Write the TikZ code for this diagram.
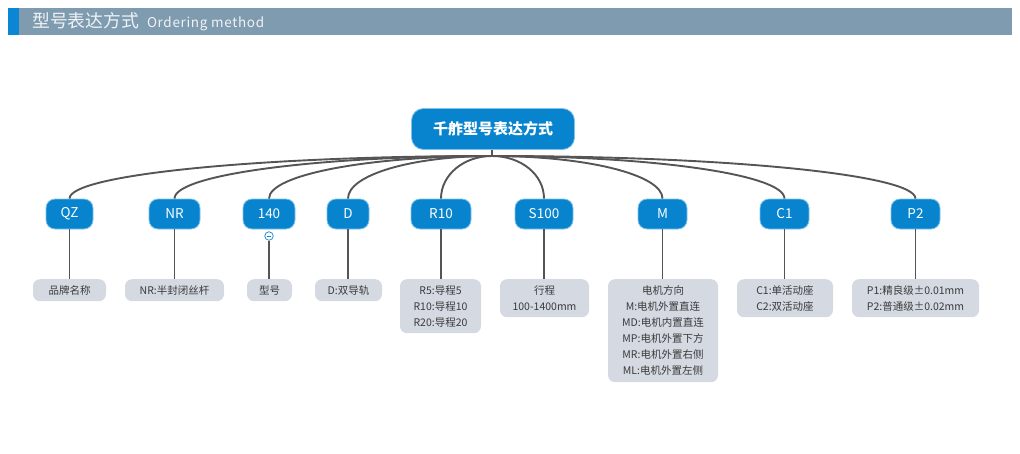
\documentclass[tikz,border=0pt]{standalone}
\usepackage{fontspec}
\setmainfont{Noto Sans CJK SC}
\definecolor{hdrgray}{HTML}{7F9BB0}
\definecolor{hdrblue}{HTML}{0A86D4}
\definecolor{nodeblue}{HTML}{0884CE}
\definecolor{nodeedge}{HTML}{7FC2EC}
\definecolor{leafgray}{HTML}{D5DAE2}
\definecolor{leaftext}{HTML}{3A3A3A}
\definecolor{conncol}{HTML}{555555}
\tikzset{
  keybox/.style={fill=nodeblue, draw=nodeedge, line width=0.8pt, rounded corners=9pt,
    minimum height=30pt, inner sep=0pt, text=white, font=\fontsize{13.5}{15}\selectfont},
  rootbox/.style={fill=nodeblue, draw=nodeedge, line width=0.8pt, rounded corners=12pt,
    minimum width=163pt, minimum height=41pt, inner sep=0pt, text=white,
    font=\fontsize{15}{17}\selectfont\bfseries},
  leafbox/.style={fill=leafgray, rounded corners=7pt, anchor=north, inner sep=0pt,
    align=center, text=leaftext, font=\fontsize{10.5}{16}\selectfont},
  conn/.style={draw=conncol, line width=1.9pt},
}
\begin{document}
\begin{tikzpicture}[x=1pt,y=-1pt]
\useasboundingbox (0,0) rectangle (1020,453);
% header
\fill[hdrgray] (19,8) rectangle (1012,35);
\fill[hdrblue] (8,8) rectangle (19,35);
\node[anchor=west, inner sep=0pt, text=white!88!hdrgray] (hdr) at (32,22)
  {{\fontsize{17.8}{19}\selectfont 型号表达方式}\hspace{8pt}{\fontsize{13.5}{15}\selectfont\addfontfeatures{LetterSpace=5}Ordering method}};
% root
\node[rootbox] (root) at (493,129) {千舴型号表达方式};
\coordinate (hub) at (492,156);
% key nodes
\node[keybox, minimum width=47pt] (qz) at (69.5,214) {QZ};
\node[keybox, minimum width=51pt] (nr) at (174.5,214) {NR};
\node[keybox, minimum width=52pt] (n140) at (269,214) {140};
\node[keybox, minimum width=42pt] (d) at (348,214) {D};
\node[keybox, minimum width=60pt] (r10) at (441,214) {R10};
\node[keybox, minimum width=58pt] (s100) at (544,214) {S100};
\node[keybox, minimum width=49pt] (m) at (662.5,214) {M};
\node[keybox, minimum width=49pt] (c1) at (784.5,214) {C1};
\node[keybox, minimum width=49pt] (p2) at (915.5,214) {P2};
% leaves
\node[leafbox, minimum width=73pt, minimum height=22pt] (lqz) at (69.5,279) {品牌名称};
\node[leafbox, minimum width=99pt, minimum height=22pt] (lnr) at (174.5,279) {NR:半封闭丝杆};
\node[leafbox, minimum width=45pt, minimum height=22pt] (l140) at (269.5,279) {型号};
\node[leafbox, minimum width=67pt, minimum height=22pt] (ld) at (348.5,279) {D:双导轨};
\node[leafbox, minimum width=81pt, minimum height=54pt] (lr10) at (440.5,279) {R5:导程5\\R10:导程10\\R20:导程20};
\node[leafbox, minimum width=89pt, minimum height=38pt] (ls100) at (544.5,279) {行程\\100-1400mm};
\node[leafbox, minimum width=110pt, minimum height=103pt] (lm) at (663,279)
  {电机方向\\M:电机外置直连\\MD:电机内置直连\\MP:电机外置下方\\MR:电机外置右侧\\ML:电机外置左侧};
\node[leafbox, minimum width=96pt, minimum height=38pt] (lc1) at (785,279) {C1:单活动座\\C2:双活动座};
\node[leafbox, minimum width=127pt, minimum height=38pt] (lp2) at (915.5,279) {P1:精良级±0.01mm\\P2:普通级±0.02mm};
% collapse marker under 140
\node[circle, draw=hdrblue, fill=white, line width=0.7pt, minimum size=8.5pt, inner sep=0pt] (minus) at (269,236) {};
\draw[hdrblue, line width=0.9pt] ([xshift=-2.3pt]minus.center) -- ([xshift=2.3pt]minus.center);
% connectors
\draw[conn] (root.south -| hub) -- (hub);
\foreach \n/\c in {qz/-232, nr/-175, n140/-123, d/-79, r10/-28, s100/29, m/94, c1/161, p2/233}
  \draw[conn] (hub) .. controls +(\c,0) and +(0,-24) .. (\n.north);
\draw[conn] (qz.south) -- (qz.south |- lqz.north);
\draw[conn] (nr.south) -- (nr.south |- lnr.north);
\draw[conn] (minus.south) -- (minus.south |- l140.north);
\draw[conn] (d.south) -- (d.south |- ld.north);
\draw[conn] (r10.south) -- (r10.south |- lr10.north);
\draw[conn] (s100.south) -- (s100.south |- ls100.north);
\draw[conn] (m.south) -- (m.south |- lm.north);
\draw[conn] (c1.south) -- (c1.south |- lc1.north);
\draw[conn] (p2.south) -- (p2.south |- lp2.north);
\end{tikzpicture}
\end{document}
